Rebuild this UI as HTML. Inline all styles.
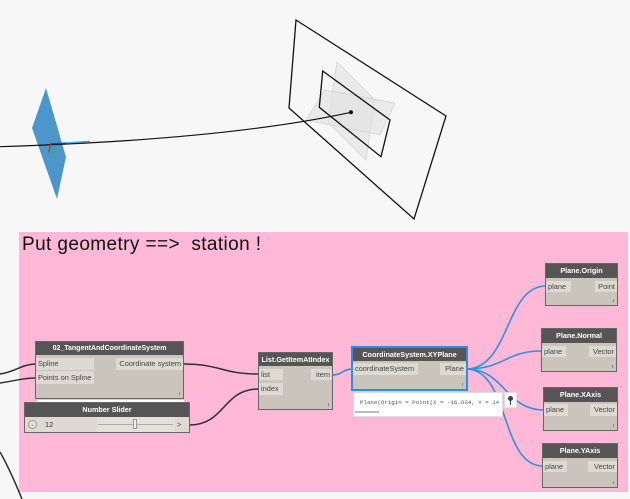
<!DOCTYPE html>
<html><head><meta charset="utf-8">
<style>
html,body{margin:0;padding:0;}
body{width:630px;height:499px;position:relative;overflow:hidden;background:#f7f7f7;font-family:"Liberation Sans",sans-serif;}
svg.bg{position:absolute;left:0;top:0;}
.n{position:absolute;background:#c9c5bc;outline:1px solid #666;}
.h{position:absolute;left:0;top:0;right:0;background:#555;color:#fff;font-weight:bold;font-size:7.2px;text-align:center;white-space:nowrap;}
.p{position:absolute;background:#dedad2;color:#444;font-size:7.4px;white-space:nowrap;box-sizing:border-box;padding-left:2px;}
.o{text-align:right;padding-left:0;padding-right:2px;}
.m{position:absolute;right:3px;bottom:3px;width:1px;height:3px;background:#888;}
</style></head><body>
<svg class="bg" width="630" height="499" viewBox="0 0 630 499">
  <!-- top geometry -->
  <polygon points="46,88 32,128 57,199 66,157" fill="#4b97cb"/>
  <polygon points="337,62 375,100 366,160 328,122" fill="rgba(225,225,225,0.6)" stroke="#cfcfcf" stroke-width="0.7"/>
  <polygon points="306,120 325,90 395,103 380,135" fill="rgba(225,225,225,0.6)" stroke="#cfcfcf" stroke-width="0.7"/>
  <polygon points="296,20 446,116 414,219 289,108" fill="none" stroke="#111" stroke-width="1.3"/>
  <polygon points="322.7,71 390,120 381,156.7 319.3,107.3" fill="none" stroke="#111" stroke-width="1.3"/>
  <path d="M0,146.7 C150,142 270,130 351,112.3" fill="none" stroke="#111" stroke-width="1.2"/>
  <line x1="50" y1="144" x2="66" y2="143" stroke="#1a3fb0" stroke-width="1.3"/>
  <line x1="66" y1="143" x2="90" y2="141.3" stroke="#3aa3e6" stroke-width="1.3"/>
  <line x1="50.7" y1="144" x2="48.7" y2="152.3" stroke="#e02020" stroke-width="1.2"/>
  <line x1="51" y1="145" x2="54.3" y2="157.3" stroke="#22c040" stroke-width="1.2"/>
  <circle cx="351" cy="112.3" r="2" fill="#111"/>
  <!-- group -->
  <rect x="19" y="232" width="609" height="260" fill="#ffb8d5"/>
  <text x="22" y="250" font-family="Liberation Sans, sans-serif" font-size="19" letter-spacing="0.4" fill="#111" style="white-space:pre" xml:space="preserve">Put geometry ==&gt;  station !</text>
  <!-- dark wires -->
  <g fill="none" stroke="#2e2e2e" stroke-width="1.5">
    <path d="M0,374 C15,372 22,364 36,364"/>
    <path d="M0,383 C15,381 22,378 36,378"/>
    <path d="M0,452 C8,466 15,482 22,499"/>
    <path d="M183,364 C221,364 221,374 259,374"/>
    <path d="M189,425 C226,425 222,389 259,389"/>
  </g>
  <!-- blue wires -->
  <g fill="none" stroke="#2f8fe0" stroke-width="1.6">
    <path d="M332,375 C343,375 342,369 353,369"/>
    <path d="M466,369 C510,369 505,286 546,286"/>
    <path d="M466,369 C505,369 505,351 542,351"/>
    <path d="M466,369 C505,369 505,410 544,410"/>
    <path d="M466,369 C510,369 500,466 543,466"/>
  </g>
</svg>

<!-- 02_TangentAndCoordinateSystem -->
<div class="n" style="left:36px;top:342px;width:147px;height:56px;">
  <div class="h" style="height:13px;line-height:13px;font-size:7px;">02_TangentAndCoordinateSystem</div>
  <div class="p" style="left:0;top:16px;width:58px;height:12px;line-height:12px;">Spline</div>
  <div class="p" style="left:0;top:29px;width:58px;height:13px;line-height:13px;">Points on Spline</div>
  <div class="p o" style="right:0;top:16px;width:67px;height:12px;line-height:12px;">Coordinate system</div>
  <div class="m"></div>
</div>
<div style="position:absolute;left:37px;top:400px;width:147px;height:2px;background:#fff;"></div>

<!-- Number Slider -->
<div class="n" style="left:25px;top:403px;width:164px;height:29px;background:#dedad2;">
  <div class="h" style="height:14px;line-height:14px;">Number Slider</div>
  <div style="position:absolute;left:3px;top:17px;width:9px;height:9px;border-radius:50%;border:1px solid #999;box-sizing:border-box;background:#e6e3dd;font-size:5px;line-height:8px;text-align:center;color:#555;">&#8964;</div>
  <div style="position:absolute;left:20px;top:14px;height:15px;line-height:15px;font-size:7.4px;color:#333;">12</div>
  <div style="position:absolute;left:72px;top:14px;width:78px;height:15px;background:#e4e1db;"></div>
  <div style="position:absolute;left:73px;top:21px;width:75px;height:1px;background:#aaa;"></div>
  <div style="position:absolute;left:108px;top:16px;width:4px;height:10px;background:#f2f2f2;border:1px solid #999;box-sizing:border-box;"></div>
  <div style="position:absolute;left:152px;top:14px;height:15px;line-height:15px;font-size:7.4px;color:#444;">&gt;</div>
</div>

<!-- List.GetItemAtIndex -->
<div class="n" style="left:259px;top:353px;width:73px;height:56px;">
  <div class="h" style="height:13px;line-height:13px;">List.GetItemAtIndex</div>
  <div class="p" style="left:0;top:16px;width:24px;height:11px;line-height:11px;">list</div>
  <div class="p" style="left:0;top:30px;width:24px;height:12px;line-height:12px;">index</div>
  <div class="p o" style="right:0;top:16px;width:21px;height:11px;line-height:11px;">item</div>
  <div class="m"></div>
</div>

<!-- CoordinateSystem.XYPlane -->
<div class="n" style="left:353px;top:348px;width:113px;height:41px;outline:2px solid #2f8de4;">
  <div class="h" style="height:13px;line-height:13px;">CoordinateSystem.XYPlane</div>
  <div class="p" style="left:0;top:15px;width:65px;height:12px;line-height:12px;">coordinateSystem</div>
  <div class="p o" style="right:0;top:15px;width:26px;height:12px;line-height:12px;">Plane</div>
  <div class="m"></div>
</div>

<!-- preview bubble -->
<div style="position:absolute;left:353px;top:392px;width:150px;height:25px;background:#fff;box-sizing:border-box;border:1px solid #ddd;overflow:hidden;">
  <div style="position:absolute;left:6px;top:6px;font-family:'Liberation Mono',monospace;font-size:5.8px;color:#555;white-space:pre;">Plane(Origin = Point(X = -16.634, Y = 14</div>
  <div style="position:absolute;left:1px;top:18px;width:24px;height:2px;background:#bbb;"></div>
</div>
<div style="position:absolute;left:504px;top:392px;width:13px;height:16px;background:#fff;border:1px solid #e0e0e0;box-sizing:border-box;">
  <div style="position:absolute;left:3px;top:3px;width:5px;height:5px;border-radius:50%;background:#444;"></div>
  <div style="position:absolute;left:5px;top:7px;width:1px;height:5px;background:#444;"></div>
</div>

<!-- Plane.Origin -->
<div class="n" style="left:546px;top:264px;width:71px;height:41px;">
  <div class="h" style="height:14px;line-height:14px;">Plane.Origin</div>
  <div class="p" style="left:0;top:17px;width:25px;height:11px;line-height:11px;">plane</div>
  <div class="p o" style="right:0;top:17px;width:22px;height:11px;line-height:11px;">Point</div>
  <div class="m"></div>
</div>

<!-- Plane.Normal -->
<div class="n" style="left:542px;top:329px;width:74px;height:42px;">
  <div class="h" style="height:14px;line-height:14px;">Plane.Normal</div>
  <div class="p" style="left:0;top:17px;width:24px;height:11px;line-height:11px;">plane</div>
  <div class="p o" style="right:0;top:17px;width:27px;height:11px;line-height:11px;">Vector</div>
  <div class="m"></div>
</div>

<!-- Plane.XAxis -->
<div class="n" style="left:544px;top:388px;width:73px;height:42px;">
  <div class="h" style="height:14px;line-height:14px;">Plane.XAxis</div>
  <div class="p" style="left:0;top:16px;width:24px;height:12px;line-height:12px;">plane</div>
  <div class="p o" style="right:0;top:16px;width:27px;height:12px;line-height:12px;">Vector</div>
  <div class="m"></div>
</div>

<!-- Plane.YAxis -->
<div class="n" style="left:543px;top:444px;width:74px;height:43px;">
  <div class="h" style="height:14px;line-height:14px;">Plane.YAxis</div>
  <div class="p" style="left:0;top:17px;width:24px;height:11px;line-height:11px;">plane</div>
  <div class="p o" style="right:0;top:17px;width:29px;height:11px;line-height:11px;">Vector</div>
  <div class="m"></div>
</div>
</body></html>
